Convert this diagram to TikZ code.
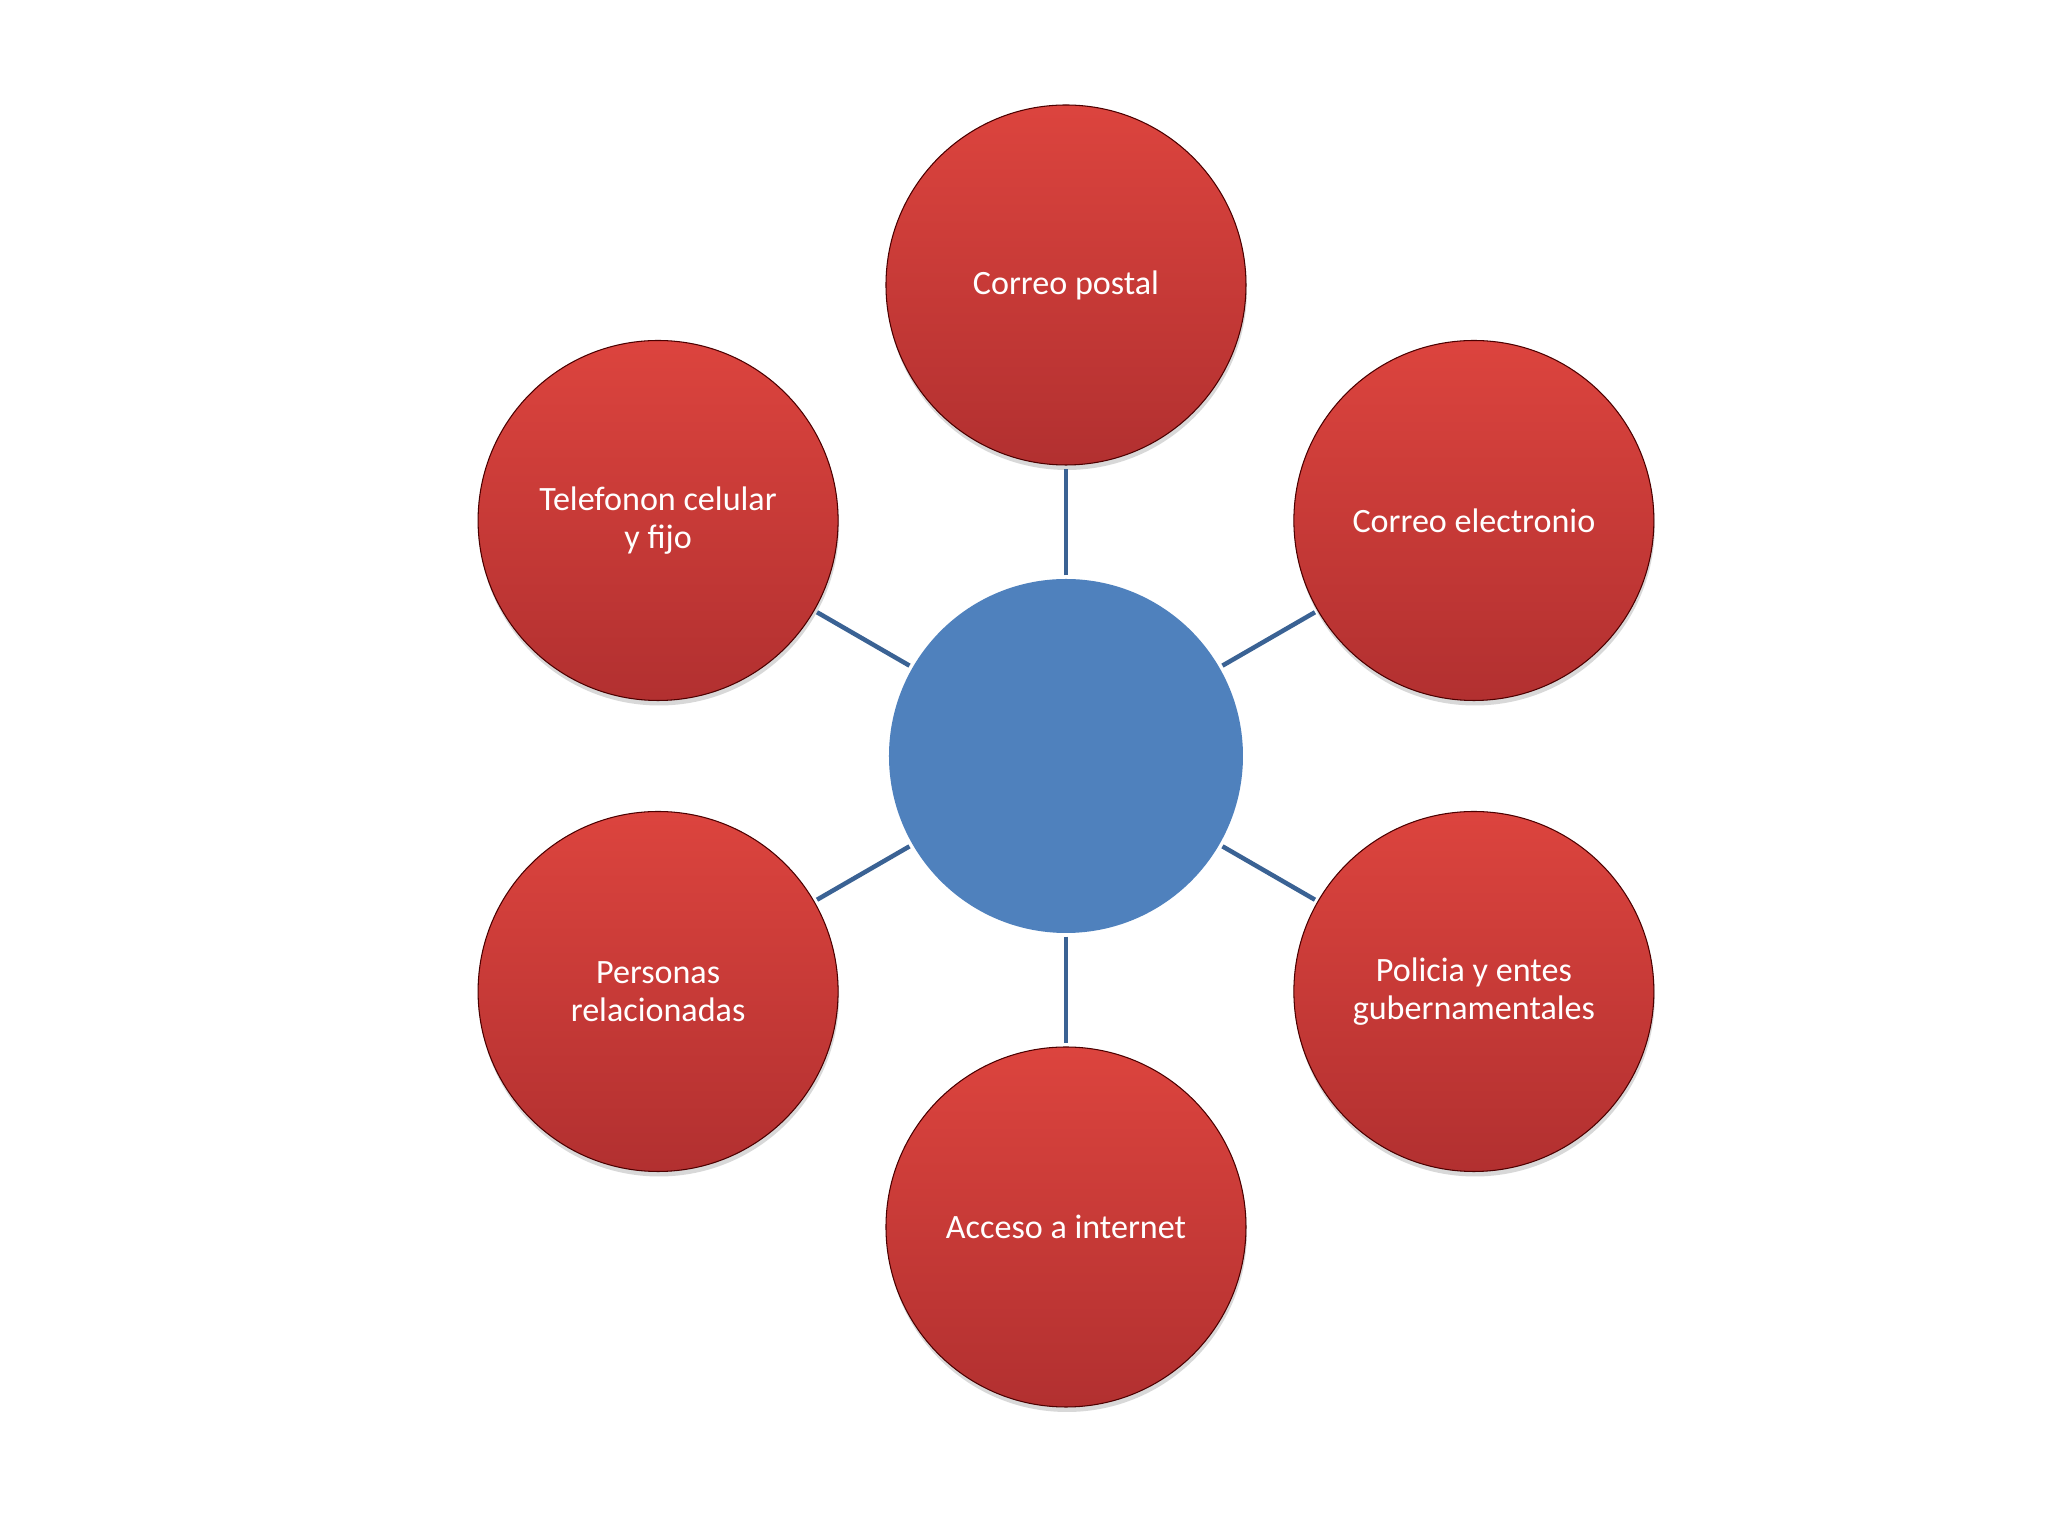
\documentclass[tikz,border=0pt]{standalone}
\usepackage{fontspec}
\setmainfont{Carlito}
\usetikzlibrary{shadows}
\definecolor{redtop}{RGB}{220,68,62}
\definecolor{redbot}{RGB}{178,48,48}
\definecolor{hubblue}{RGB}{79,129,189}
\definecolor{spoke}{RGB}{58,98,148}

\begin{document}
\begin{tikzpicture}[x = 1cm, y = 1cm,
  topic/.style = {circle, minimum size = 3.6cm, inner sep = 0pt, top color = redtop, bottom color = redbot,
    draw = red!30!black, line width = 0.3pt, align = center, text = white, font = \fontsize{9.7}{10.9}\selectfont,
    drop shadow = {shadow xshift = 0.01cm, shadow yshift = -0.05cm, opacity = 0.3}},
  hub/.style = {circle, fill = hubblue, minimum size = 3.54cm, inner sep = 0pt},
  link/.style = {draw = spoke, line width = 0.045cm, shorten < = 0.03cm, shorten > = 0.03cm}]
\useasboundingbox[fill = white] (-10.66,-7.80) rectangle (9.82,7.56);
\node[hub](c){};
\node[topic](t1) at (90:4.71) {Correo postal};
\node[topic](t2) at (30:4.71) {Correo electronio};
\node[topic](t3) at (-30:4.71) {Policia y entes\\gubernamentales};
\node[topic](t4) at (-90:4.71) {Acceso a internet};
\node[topic](t5) at (210:4.71) {Personas\\relacionadas};
\node[topic](t6) at (150:4.71) {Telefonon celular\\y fijo};
\draw[link] (c) -- (t1);
\draw[link] (c) -- (t2);
\draw[link] (c) -- (t3);
\draw[link] (c) -- (t4);
\draw[link] (c) -- (t5);
\draw[link] (c) -- (t6);
\end{tikzpicture}
\end{document}
